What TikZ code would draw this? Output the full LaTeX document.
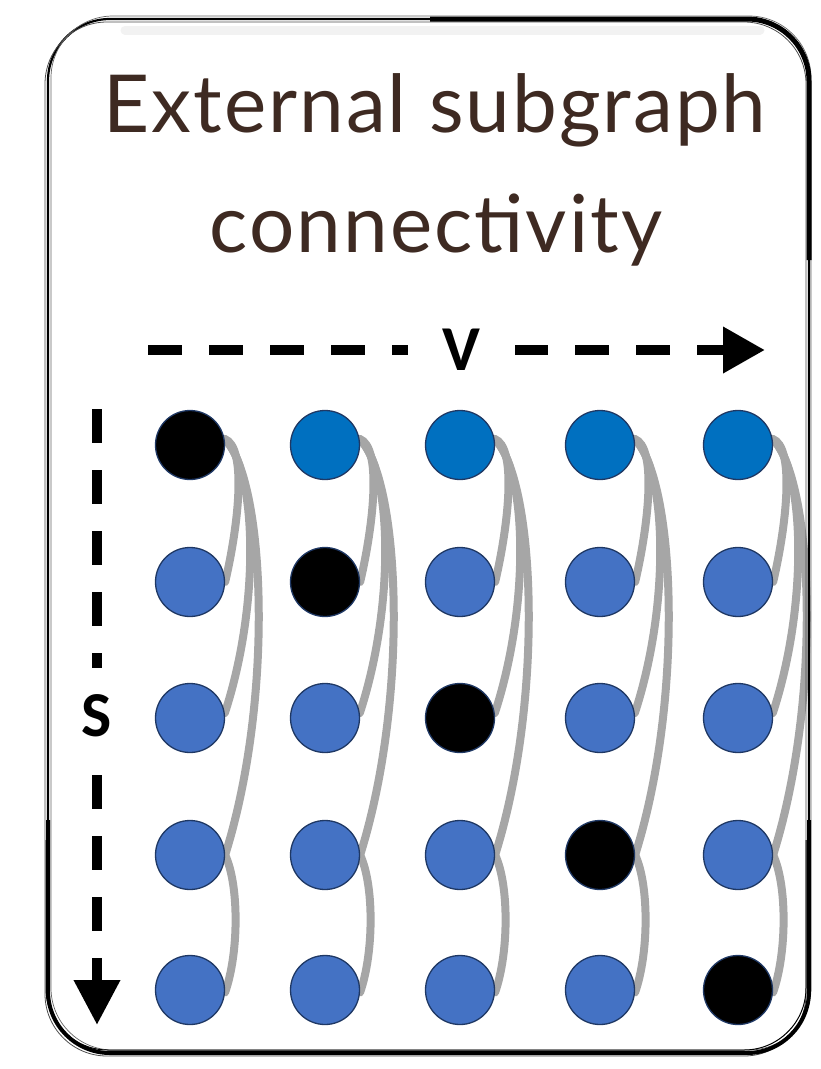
\documentclass[tikz,border=0pt]{standalone}
\usepackage{fontspec}
\usetikzlibrary{arrows.meta,backgrounds}
\newfontfamily\titlefont{Lato}[LetterSpace=2.5]
\newfontfamily\axisfont{Carlito}
\definecolor{titlebrown}{HTML}{3E2A22}
\definecolor{toprow}{HTML}{0070C0}
\definecolor{plainnode}{HTML}{4472C4}
\definecolor{rim}{HTML}{1F3864}
\definecolor{linkgray}{HTML}{A6A6A6}
\begin{document}
\begin{tikzpicture}[x=1pt,y=-1pt,
  vertex/.style={circle,minimum size=69pt,inner sep=0pt,draw=rim,line width=1.3pt,fill=plainnode},
  firstrow/.style={vertex,fill=toprow},
  hit/.style={vertex,fill=black},
  link/.style={draw=linkgray,line width=8pt,line cap=round},
  axisline/.style={line width=10pt,dash pattern=on 34pt off 27pt},
  axislabel/.style={fill=white,inner sep=0pt,font=\axisfont\bfseries\fontsize{64}{68}\selectfont},
  titletext/.style={font=\titlefont\fontsize{80}{94}\selectfont,text=titlebrown,anchor=base},
  frame/.style={rounded corners=62pt}]
\useasboundingbox (0,0) rectangle (820,1069);

% sketched frame with a faint shadow under the top edge
\draw[black!5,line width=9pt,line cap=round] (125,30) -- (760,30);
\draw[frame,line width=2.2pt] (48,19) rectangle (809,1053);
\draw[frame,line width=0.8pt,black!70] (45,22) rectangle (806,1056);
\draw[frame,line width=0.7pt,black!60] (51,16) rectangle (811,1050);
\draw[frame,line width=5pt] (430,19) -- (809,19) -- (809,260);
\draw[frame,line width=4pt] (48,820) -- (48,1053) -- (809,1053) -- (809,820);
\draw[frame,line width=1pt] (46,840) -- (46,1050) -- (806,1050) -- (806,840);

% title
\node[titletext] (t1) at (435,132) {External subgraph};
\node[titletext] (t2) at (436,252) {connectivity};

% axes
\coordinate (vs) at (148,350);
\coordinate (ve) at (765,350);
\draw[axisline,-{Triangle[length=42pt,width=44pt]}] (vs) -- (ve);
\node[axislabel,minimum width=107pt,minimum height=50pt] (vl) at (461,350) {V};
\coordinate (ss) at (97,409);
\coordinate (se) at (97,1025);
\draw[axisline,-{Triangle[length=45pt,width=44pt]}] (ss) -- (se);
\node[axislabel,minimum width=40pt,minimum height=97pt] (sl) at (97,716) {S};

% vertex grid: diagonal entries in black, first row darker blue
\foreach \c/\x in {1/190,2/325,3/460,4/600,5/738}
  \foreach \r/\y in {1/445,2/582,3/718,4/855,5/990}{
    \ifnum\c=\r \def\st{hit}\else\ifnum\r=1 \def\st{firstrow}\else\def\st{vertex}\fi\fi
    \node[\st] (n\c\r) at (\x,\y) {};
  }

% links inside every column
\begin{scope}[on background layer]
\foreach \c in {1,...,5}{
  \draw[link] (n\c1.10) .. controls +(22,8) and +(14,-60) .. (n\c2.east);
  \draw[link] (n\c1.10) .. controls +(32,30) and +(36,-110) .. (n\c3.8);
  \draw[link] (n\c1.10) .. controls +(40,40) and +(50,-160) .. (n\c4.east);
  \draw[link] (n\c4.east) .. controls +(14,30) and +(14,-40) .. (n\c5.-4);
}
\end{scope}
\end{tikzpicture}
\end{document}
